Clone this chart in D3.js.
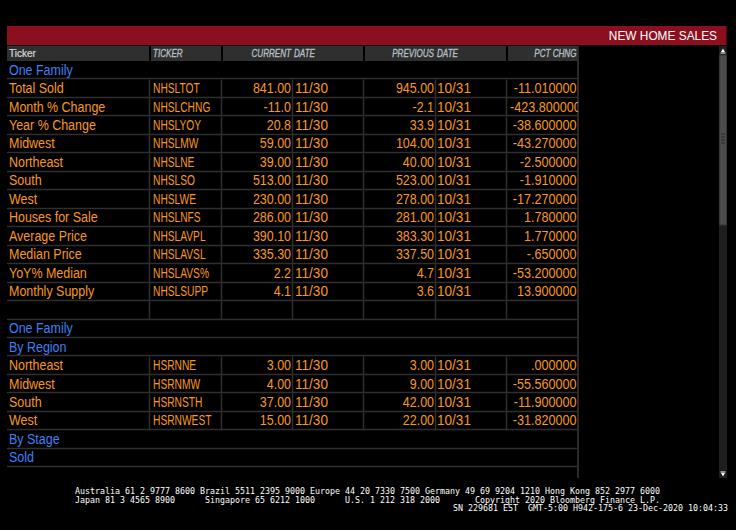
<!DOCTYPE html>
<html><head><meta charset="utf-8">
<script src="https://cdn.jsdelivr.net/npm/d3@7"></script>
<style>html,body{margin:0;padding:0;background:#000;overflow:hidden}</style>
</head><body><svg id="c" width="736" height="530" xmlns="http://www.w3.org/2000/svg"></svg>
<script>
// ---------- data ----------
const title = "NEW HOME SALES";
const headers = ["Ticker", "TICKER", "CURRENT", "DATE", "PREVIOUS", "DATE", "PCT CHNG"];
const rowLabels = ["One Family", "Total Sold", "Month % Change", "Year % Change", "Midwest", "Northeast",
  "South", "West", "Houses for Sale", "Average Price", "Median Price", "YoY% Median", "Monthly Supply", "",
  "One Family", "By Region", "Northeast", "Midwest", "South", "West", "By Stage", "Sold"];
const rowKinds = ["section", "data", "data", "data", "data", "data", "data", "data", "data", "data", "data",
  "data", "data", "blank", "section", "section", "data", "data", "data", "data", "section", "section"];
const tickers = ["", "NHSLTOT", "NHSLCHNG", "NHSLYOY", "NHSLMW", "NHSLNE", "NHSLSO", "NHSLWE", "NHSLNFS",
  "NHSLAVPL", "NHSLAVSL", "NHSLAVS%", "NHSLSUPP", "", "", "", "HSRNNE", "HSRNMW", "HSRNSTH", "HSRNWEST", "", ""];
const currentValues = [null, 841, -11.0, 20.8, 59, 39, 513, 230, 286, 390.1, 335.3, 2.2, 4.1, null,
  null, null, 3, 4, 37, 15, null, null];
const previousValues = [null, 945, -2.1, 33.9, 104, 40, 523, 278, 281, 383.3, 337.5, 4.7, 3.6, null,
  null, null, 3, 9, 42, 22, null, null];
const valueDecimals = [0, 2, 1, 1, 2, 2, 2, 2, 2, 2, 2, 1, 1, 0, 0, 0, 2, 2, 2, 2, 0, 0];
const currentDate = "11/30";
const previousDate = "10/31";
const pctChange = [null, -11.01, -423.8, -38.6, -43.27, -2.5, -1.91, -17.27, 1.78, 1.77, -0.65, -53.2, 13.9,
  null, null, null, 0, -55.56, -11.9, -31.82, null, null];
const footerLines = [
  "Australia 61 2 9777 8600 Brazil 5511 2395 9000 Europe 44 20 7330 7500 Germany 49 69 9204 1210 Hong Kong 852 2977 6000",
  "Japan 81 3 4565 8900      Singapore 65 6212 1000      U.S. 1 212 318 2000       Copyright 2020 Bloomberg Finance L.P.",
  "SN 229681 EST  GMT-5:00 H942-175-6 23-Dec-2020 10:04:33"
];

// ---------- layout ----------
const svg = d3.select("#c");
const FONT = "'Liberation Sans', Arial, sans-serif";
const ORANGE = "#f8991f", BLUE = "#3f80f6", GRID = "#2f2f2f";
const loc = d3.formatLocale({ decimal: ".", thousands: ",", grouping: [3], currency: ["$", ""], minus: "-" });
const cols = ["label", "ticker", "cur", "curDate", "prev", "prevDate", "pct", "end"];
const x = d3.scaleOrdinal().domain(cols).range([7, 150, 222, 293, 364, 436, 507, 578]);
const y = d3.scaleBand().domain(d3.range(rowLabels.length)).range([61, 467.3]).padding(0);

svg.append("rect").attr("width", 736).attr("height", 530).attr("fill", "#000");
const defs = svg.append("defs");
defs.append("clipPath").attr("id", "tclip").append("rect")
  .attr("x", 7).attr("y", 40).attr("width", 571).attr("height", 440);

function txt(g, px, py, s, o = {}) {
  const sx = o.sx || 0.9;
  const t = g.append("text")
    .attr("transform", `translate(${px},${py}) scale(${sx},1)`)
    .attr("text-anchor", o.anchor || "start")
    .attr("font-family", o.font || FONT)
    .attr("font-size", o.size || 14)
    .attr("font-style", o.italic ? "italic" : "normal")
    .attr("fill", o.fill || ORANGE)
    .text(s);
  if (o.stroke) t.attr("stroke", o.fill).attr("stroke-width", o.stroke);
  return t;
}

// title bar
svg.append("rect").attr("x", 7).attr("y", 26).attr("width", 719.5).attr("height", 19).attr("fill", "#8b0f1f");
txt(svg, 717, 40, title, { anchor: "end", size: 13.2, fill: "#ffffff" });

// header row
const hdr = svg.append("g");
const hdrCells = [["label", "ticker"], ["ticker", "cur"], ["cur", "prev"], ["prev", "pct"], ["pct", "end"]];
hdr.selectAll("rect").data(hdrCells).join("rect")
  .attr("x", d => x(d[0]) + (d[0] === "label" ? 0 : 1))
  .attr("y", 46).attr("height", 15)
  .attr("width", d => x(d[1]) - x(d[0]) - (d[0] === "label" ? 1 : 2))
  .attr("fill", "#2f2f2f");
const HY = 57, HS = 10.8, HX = 0.75, HC = "#b9c0ca";
txt(hdr, 9, HY, headers[0], { size: HS, fill: "#d4d4d4", sx: 0.93, stroke: 0.25 });
txt(hdr, x("ticker") + 3, HY, headers[1], { size: HS, fill: HC, italic: true, sx: HX, stroke: 0.3 });
txt(hdr, x("curDate") - 2, HY, headers[2], { size: HS, fill: HC, italic: true, anchor: "end", sx: HX, stroke: 0.3 });
txt(hdr, x("curDate") + 1, HY, headers[3], { size: HS, fill: HC, italic: true, sx: HX, stroke: 0.3 });
txt(hdr, x("prevDate") - 2, HY, headers[4], { size: HS, fill: HC, italic: true, anchor: "end", sx: HX, stroke: 0.3 });
txt(hdr, x("prevDate") + 1, HY, headers[5], { size: HS, fill: HC, italic: true, sx: HX, stroke: 0.3 });
txt(hdr, x("end") - 1.5, HY, headers[6], { size: HS, fill: HC, italic: true, anchor: "end", sx: HX, stroke: 0.3 });

// grid
const grid = svg.append("g");
const rowsIdx = d3.range(rowLabels.length);
grid.selectAll("line.h").data(rowsIdx).join("line").attr("class", "h")
  .attr("x1", 7).attr("x2", 578)
  .attr("y1", i => Math.round(y(i) + y.bandwidth()) - 0.5)
  .attr("y2", i => Math.round(y(i) + y.bandwidth()) - 0.5)
  .attr("stroke", GRID).attr("stroke-width", 1.5);
const sepCols = ["ticker", "cur", "curDate", "prev", "prevDate", "pct"];
const sepData = [];
rowsIdx.forEach(i => { if (rowKinds[i] !== "section") sepCols.forEach(c => sepData.push({ i, c })); });
grid.selectAll("line.v").data(sepData).join("line").attr("class", "v")
  .attr("x1", d => x(d.c) - 0.5).attr("x2", d => x(d.c) - 0.5)
  .attr("y1", d => y(d.i)).attr("y2", d => y(d.i) + y.bandwidth())
  .attr("stroke", GRID).attr("stroke-width", 1.5);
grid.append("line").attr("x1", 578).attr("x2", 578).attr("y1", 46).attr("y2", 478)
  .attr("stroke", "#2a2a2a").attr("stroke-width", 2);

// body text
const body = svg.append("g").attr("clip-path", "url(#tclip)");
const fmtPct = v => loc.format(".6f")(v).replace(/^(-?)0\./, "$1.");
rowsIdx.forEach(i => {
  const by = y(i) + 13.6;
  const kind = rowKinds[i];
  if (rowLabels[i]) txt(body, 9, by, rowLabels[i], { fill: kind === "section" ? BLUE : ORANGE, sx: 0.89 });
  if (kind !== "data") return;
  const f = loc.format("." + valueDecimals[i] + "f");
  txt(body, x("ticker") + 3, by, tickers[i], { sx: 0.73 });
  txt(body, x("curDate") - 2, by, f(currentValues[i]), { anchor: "end", sx: 0.89 });
  txt(body, x("curDate") + 2, by, currentDate, { sx: 0.97 });
  txt(body, x("prevDate") - 2, by, f(previousValues[i]), { anchor: "end", sx: 0.89 });
  txt(body, x("prevDate") + 1, by, previousDate, { sx: 0.97 });
  const t = txt(body, x("end") - 1.5, by, fmtPct(pctChange[i]), { anchor: "end", sx: 0.9 });
  const w = t.node().getComputedTextLength() * 0.9;
  if (w > x("end") - x("pct") - 4) {
    t.attr("text-anchor", "start").attr("transform", `translate(${x("pct") + 3},${by}) scale(0.9,1)`);
  }
});

// scrollbar
const sb = svg.append("g");
sb.append("rect").attr("x", 719).attr("y", 46).attr("width", 8).attr("height", 432).attr("fill", "#1e1e1e");
sb.append("rect").attr("x", 719.5).attr("y", 55).attr("width", 7).attr("height", 170)
  .attr("fill", "#4b4b4b").attr("stroke", "#363636");
[134, 137, 140, 143].forEach(v => sb.append("line").attr("x1", 721).attr("x2", 725)
  .attr("y1", v).attr("y2", v).attr("stroke", "#2a2a2a"));
sb.append("path").attr("d", "M721,52 L723,48.5 L725,52 Z M720.5,52.5 H725.5 V53.5 H720.5 Z").attr("fill", "#fff");
sb.append("path").attr("d", "M721,473 L723,476.5 L725,473 Z M720.5,471.5 H725.5 V472.5 H720.5 Z").attr("fill", "#fff");

// footer
const foot = svg.append("g").attr("font-family", "'DejaVu Sans Mono', monospace").attr("font-size", 8.3)
  .attr("fill", "#ffffff");
const footPos = [[75, 494, "start"], [75, 502.5, "start"], [728, 511, "end"]];
footerLines.forEach((s, k) => {
  foot.append("text").attr("x", footPos[k][0]).attr("y", footPos[k][1])
    .attr("text-anchor", footPos[k][2]).attr("xml:space", "preserve")
    .style("white-space", "pre")
    .attr("textLength", s.length * 5).attr("lengthAdjust", "spacingAndGlyphs")
    .text(s);
});
</script></body></html>
